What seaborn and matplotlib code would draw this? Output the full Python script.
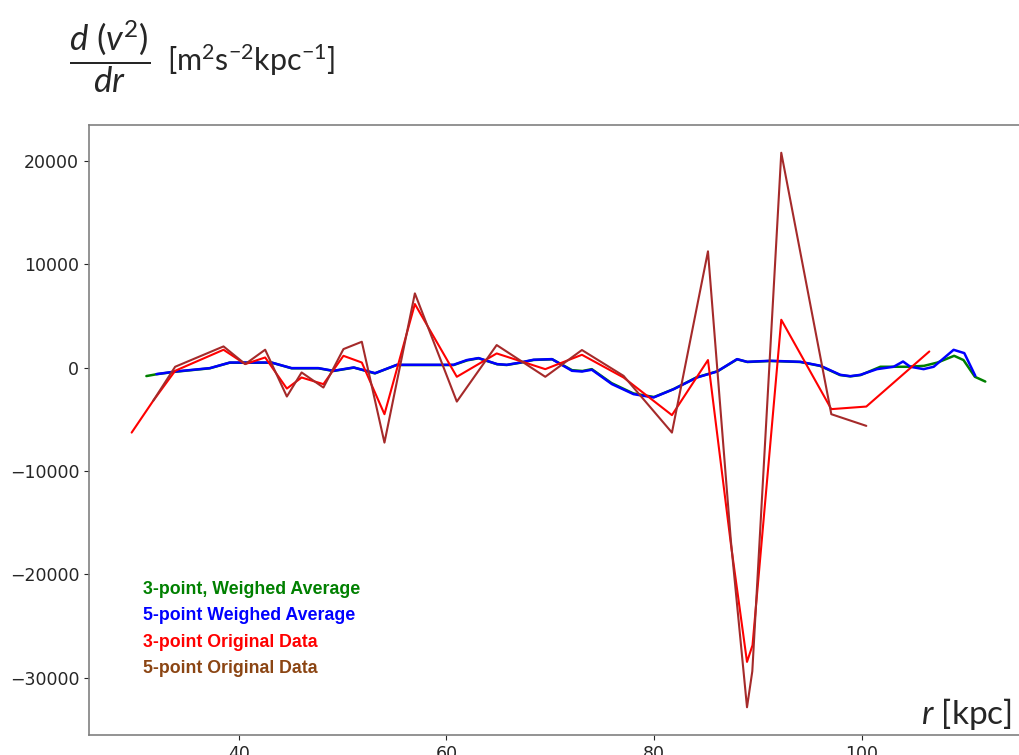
import numpy as np
import pandas as pd
import matplotlib
matplotlib.use("Agg")
import matplotlib.pyplot as plt
import seaborn as sns

# values (r in kpc, d(v^2)/dr)
r_3avg = [31.1, 32.1, 33.9, 37.2, 39.1, 43.2, 45.1, 47.7, 49.1, 51.1, 53.1, 55.2, 60.7, 62.0,
          63.1, 63.9, 64.9, 65.8, 67.1, 68.4, 70.2, 72.1, 73.1, 74.0, 75.9, 78.0, 80.0, 81.9,
          84.1, 86.1, 88.0, 89.0, 91.2, 94.1, 96.0, 97.9, 98.9, 99.9, 101.8, 104.4, 106.0,
          107.3, 108.9, 109.8, 110.9, 111.9]
v_3avg = [-820, -640, -400, -70, 470, 470, -70, -70, -330, 0, -560, 250, 250, 700,
          900, 640, 320, 250, 470, 740, 800, -250, -330, -150, -1500, -2500, -2850, -2070,
          -940, -360, 800, 540, 640, 540, 160, -720, -850, -720, 80, 80, 170,
          490, 1140, 730, -890, -1350]

r_5avg = [32.07, 33.90, 37.22, 39.14, 43.15, 45.08, 47.65, 49.12, 51.05, 53.14, 55.23, 60.68,
          61.97, 63.09, 63.90, 64.87, 65.83, 67.11, 68.39, 70.16, 72.09, 73.05, 74.01, 75.94,
          78.02, 79.95, 81.88, 84.13, 86.06, 87.99, 88.95, 91.20, 94.09, 96.01, 97.94, 98.90,
          99.87, 101.47, 103.07, 103.98, 104.68, 105.96, 106.93, 108.85, 109.88, 110.94]
v_5avg = [-630, -380, -50, 490, 490, -50, -50, -310, 10, -540, 270, 270,
          730, 920, 660, 340, 270, 490, 760, 820, -310, -380, -210, -1600,
          -2570, -2890, -2090, -960, -380, 820, 560, 660, 560, 180, -700, -830,
          -700, -150, 80, 590, 80, -150, 80, 1720, 1400, -800]

r_3orig = [29.68, 31.75, 33.87, 38.53, 40.62, 42.54, 44.63, 46.05, 48.15, 50.08, 51.85, 54.03,
           56.96, 61.00, 64.84, 69.52, 73.05, 77.06, 81.72, 85.19, 87.40, 88.95, 89.48, 92.25,
           97.07, 100.44, 106.51]
v_3orig = [-6290, -3220, -310, 1725, 340, 980, -2030, -960, -1600, 1140, 490, -4510,
           6150, -890, 1370, -150, 1240, -960, -4600, 730, -17100, -28480, -26870, 4630,
           -4020, -3770, 1560]

r_5orig = [31.75, 33.87, 38.53, 40.62, 42.54, 44.63, 46.05, 48.15, 50.08, 51.85, 54.03, 56.96,
           61.00, 64.84, 69.52, 73.05, 77.06, 81.72, 85.19, 87.40, 88.95, 89.46, 92.25, 97.07,
           100.44]
v_5orig = [-3220, 80, 2050, 340, 1730, -2800, -470, -1930, 1790, 2500, -7260, 7180,
           -3290, 2180, -890, 1700, -800, -6290, 11250, -16800, -32870, -29390, 20790, -4510,
           -5640]

x_ticks = [40, 60, 80, 100]
y_ticks = [-30000, -20000, -10000, 0, 10000, 20000]

labels = ["3-point, Weighed Average", "5-point Weighed Average",
          "3-point Original Data", "5-point Original Data"]
label_colors = ["green", "blue", "red", "saddlebrown"]

sns.set_style("ticks")
plt.rcParams["mathtext.fontset"] = "custom"
plt.rcParams["mathtext.rm"] = "Lato"
plt.rcParams["mathtext.it"] = "Lato:italic"
plt.rcParams["mathtext.bf"] = "Lato:bold"

fig = plt.figure(figsize=(10.19, 7.55), dpi=100)
ax = fig.add_axes([0.0873, 0.0265, 0.9215, 0.8079])

sns.lineplot(x=r_3avg, y=v_3avg, sort=False, color="green", lw=1.8, ax=ax)
sns.lineplot(x=r_5avg, y=v_5avg, sort=False, color="blue", lw=1.8, ax=ax)
sns.lineplot(x=r_3orig, y=v_3orig, sort=False, color="red", lw=1.5, ax=ax)
sns.lineplot(x=r_5orig, y=v_5orig, sort=False, color="brown", lw=1.5, ax=ax)

ax.set_xticks(x_ticks)
ax.set_yticks(y_ticks)
ax.tick_params(labelsize=12.5, colors=".15")
for sp in ax.spines.values():
    sp.set_color("#808080")
    sp.set_linewidth(1.2)

# hand-made legend: coloured bold text lines
for i, (lab, col) in enumerate(zip(labels, label_colors)):
    fig.text(0.140, 0.2132 - i * 0.0350, lab, color=col, fontsize=12.8,
             fontweight="bold", family="Liberation Sans", va="baseline")

# axis labels placed like the reference
fig.text(0.068, 1 - 57 / 755, r"$\dfrac{d\ (v^2)}{dr}$", fontsize=25, va="center")
fig.text(0.164, 1 - 71 / 755, r"[m$^2$s$^{-2}$kpc$^{-1}$]", fontsize=22,
         family="Lato", va="baseline")
fig.text(0.904, 1 - 724 / 755, r"$r$ [kpc]", fontsize=24, family="Lato", va="baseline")

fig.savefig("out.png", dpi=100)
